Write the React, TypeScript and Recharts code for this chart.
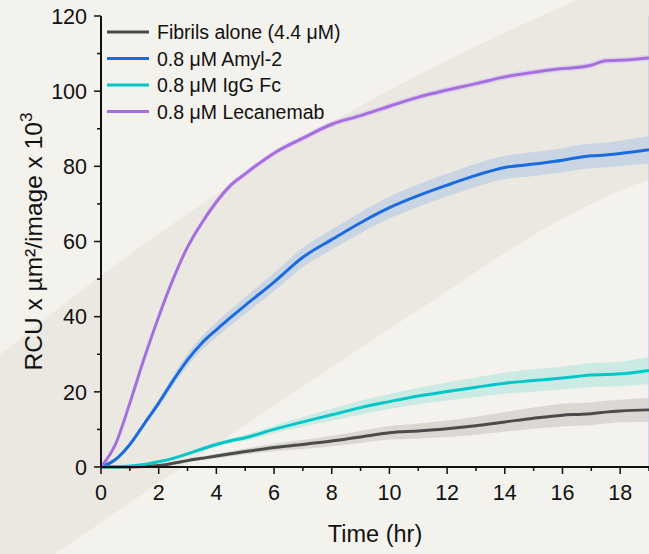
import React from "react";
import {
  ComposedChart,
  Line,
  Area,
  XAxis,
  YAxis,
  Legend,
  ReferenceLine,
} from "recharts";

// time points (hr)
const hours = [0, 0.5, 1, 1.5, 2, 2.5, 3, 3.5, 4, 4.5, 5, 6, 7, 8, 9, 10, 11, 12, 13, 14, 15, 16, 16.5, 17, 17.5, 18, 19];

// mean curves
const fibrils = [0, 0, 0, 0.1, 0.4, 1, 1.7, 2.3, 2.9, 3.5, 4.1, 5.2, 6, 6.9, 8, 9.1, 9.6, 10.2, 11, 12, 13, 13.8, 14, 14.2, 14.6, 14.9, 15.2];
const amyl2 = [0, 2, 6, 11.5, 17, 23, 28.5, 33, 36.5, 39.8, 43, 49.2, 55.8, 60.5, 65, 69, 72.2, 75, 77.6, 79.7, 80.6, 81.6, 82.3, 82.8, 83, 83.4, 84.4];
const iggFc = [0, 0, 0.3, 0.7, 1.4, 2.3, 3.5, 4.8, 6, 7, 7.8, 10, 12, 13.9, 15.8, 17.4, 18.9, 20.1, 21.2, 22.3, 23, 23.7, 24.1, 24.5, 24.6, 24.8, 25.7];
const lecanemab = [0, 6, 17, 29, 40, 50, 58.5, 65, 70.5, 75, 78, 83.5, 87.5, 91.2, 93.5, 96, 98.4, 100.3, 102, 103.8, 105, 106, 106.3, 106.9, 108.1, 108.2, 108.8];

// half-width of the shaded error bands
const fibrilsErr = [0, 0, 0, 0.1, 0.2, 0.3, 0.4, 0.5, 0.6, 0.7, 0.8, 1, 1.2, 1.4, 1.6, 1.8, 2, 2.2, 2.4, 2.6, 2.8, 3, 3, 3, 3, 3, 3.2];
const iggFcErr = [0, 0, 0, 0.1, 0.2, 0.3, 0.4, 0.5, 0.6, 0.7, 0.8, 1, 1.3, 1.6, 1.8, 2, 2.2, 2.4, 2.6, 2.8, 3, 3, 3.1, 3.2, 3.2, 3.3, 3.6];
const amyl2Err = [0, 0.2, 0.4, 0.7, 1, 1.3, 1.6, 1.8, 2, 2.1, 2.2, 2.4, 2.6, 2.7, 2.8, 2.9, 3, 3, 3.1, 3.1, 3.2, 3.2, 3.3, 3.3, 3.3, 3.4, 3.6];
const lecanemabErr = [0, 0.3, 0.5, 0.6, 0.7, 0.7, 0.8, 0.8, 0.8, 0.8, 0.8, 0.8, 0.8, 0.8, 0.8, 0.8, 0.8, 0.8, 0.8, 0.8, 0.8, 0.8, 0.8, 0.8, 0.8, 0.8, 0.8];

const xTicks = Array.from({ length: 20 }, (_, i) => i);
const yTicks = [0, 10, 20, 30, 40, 50, 60, 70, 80, 90, 100, 110, 120];

const series = [
  { key: "fibrils", name: "Fibrils alone (4.4 \u03bcM)", color: "#4b4b4b", band: "#9a9894", bandOpacity: 0.28 },
  { key: "amyl2", name: "0.8 \u03bcM Amyl-2", color: "#1b6be0", band: "#7fa8e8", bandOpacity: 0.3 },
  { key: "iggFc", name: "0.8 \u03bcM IgG Fc", color: "#00c6c8", band: "#7fdcd8", bandOpacity: 0.35 },
  { key: "lecanemab", name: "0.8 \u03bcM Lecanemab", color: "#a56fe0", band: "#c9a6ee", bandOpacity: 0.35 },
];

const means: Record<string, number[]> = { fibrils, amyl2, iggFc, lecanemab };
const errs: Record<string, number[]> = { fibrils: fibrilsErr, amyl2: amyl2Err, iggFc: iggFcErr, lecanemab: lecanemabErr };

const data = hours.map((t, i) => {
  const row: any = { t };
  for (const s of series) {
    const m = means[s.key][i];
    const e = errs[s.key][i];
    row[s.key] = m;
    row[s.key + "Band"] = [Math.max(0, m - e), m + e];
  }
  return row;
});

const FONT = "'Liberation Sans', Arial, Helvetica, sans-serif";

const YTick = ({ x, y, payload }: any) => {
  const major = payload.value % 20 === 0;
  return (
    <g>
      <line x1={x} x2={x - (major ? 7 : 4)} y1={y} y2={y} stroke="#111" strokeWidth={1.5} />
      {major && (
        <text x={x - 14} y={y} dy="0.36em" textAnchor="end" fontSize={21.5} fill="#111" fontFamily={FONT}>
          {payload.value}
        </text>
      )}
    </g>
  );
};

const XTick = ({ x, y, payload }: any) => {
  const major = payload.value % 2 === 0;
  return (
    <g>
      <line x1={x} x2={x} y1={y} y2={y + (major ? 7 : 4)} stroke="#111" strokeWidth={1.5} />
      {major && (
        <text x={x} y={y + 33} textAnchor="middle" fontSize={21.5} fill="#111" fontFamily={FONT}>
          {payload.value}
        </text>
      )}
    </g>
  );
};

const renderLegend = () => (
  <svg width={360} height={125} style={{ display: "block" }}>
    {series.map((s, i) => {
      const cy = 32 + i * 26.5;
      return (
        <g key={s.key}>
          <line x1={107} x2={149} y1={cy} y2={cy} stroke={s.color} strokeWidth={3} />
          <text x={157} y={cy + 7} fontSize={19.5} fill="#111" fontFamily={FONT}>
            {s.name}
          </text>
        </g>
      );
    })}
  </svg>
);

export default function App() {
  return (
    <div style={{ position: "absolute", left: 0, top: 0, width: 649, height: 554, background: "#f4f2ec", overflow: "hidden" }}>
      <svg width={649} height={554} style={{ position: "absolute", left: 0, top: 0 }}>
        <path
          d="M0,355 C50,315 140,240 300,140 C420,70 520,25 577,0 L649,0 L649,180 C600,195 520,240 460,283 C380,335 250,420 55,554 L0,554 Z"
          fill="#ebe8e2"
        />
      </svg>
      <div style={{ position: "absolute", left: 0, top: 0 }}>
        <ComposedChart width={649} height={554} data={data} margin={{ top: 16, right: 0, bottom: 0, left: 0 }}>
          <XAxis
            dataKey="t"
            type="number"
            domain={[0, 19]}
            ticks={xTicks}
            interval={0}
            height={87}
            tickSize={0}
            tickMargin={0}
            tick={<XTick />}
            tickLine={false}
            axisLine={{ stroke: "#111", strokeWidth: 2 }}
            allowDataOverflow
            label={{ value: "Time (hr)", position: "insideBottom", offset: 12, fontSize: 23.5, fill: "#111", fontFamily: FONT }}
          />
          <YAxis
            type="number"
            domain={[0, 120]}
            ticks={yTicks}
            interval={0}
            width={101}
            tickSize={0}
            tickMargin={0}
            tick={<YTick />}
            tickLine={false}
            axisLine={{ stroke: "#111", strokeWidth: 2 }}
            label={({ viewBox }: any) => {
              const cx = 42;
              const cy = viewBox.y + viewBox.height / 2;
              return (
                <text
                  x={cx}
                  y={cy}
                  transform={`rotate(-90, ${cx}, ${cy})`}
                  textAnchor="middle"
                  fontSize={24.5}
                  fill="#111"
                  fontFamily={FONT}
                >
                  RCU x µm²/image x 10
                  <tspan dy={-10} fontSize={17}>3</tspan>
                </text>
              );
            }}
          />
          <ReferenceLine x={19} stroke="#c9cde6" strokeWidth={1.5} />
          {series.map((s) => (
            <Area
              key={s.key + "Band"}
              dataKey={s.key + "Band"}
              type="monotone"
              stroke="none"
              fill={s.band}
              fillOpacity={s.bandOpacity}
              isAnimationActive={false}
              legendType="none"
              activeDot={false}
            />
          ))}
          {series.map((s) => (
            <Line
              key={s.key}
              dataKey={s.key}
              name={s.name}
              type="monotone"
              stroke={s.color}
              strokeWidth={3}
              dot={false}
              activeDot={false}
              isAnimationActive={false}
            />
          ))}
          <Legend
            layout="vertical"
            align="center"
            verticalAlign="middle"
            content={renderLegend}
            wrapperStyle={{ position: "absolute", left: 0, top: 0, width: 360, height: 125 }}
          />
        </ComposedChart>
      </div>
    </div>
  );
}
